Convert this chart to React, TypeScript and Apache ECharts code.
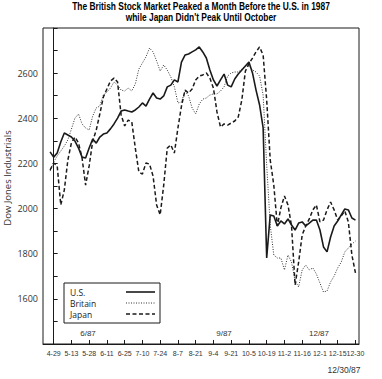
import React, { useEffect, useRef } from "react";
import * as echarts from "echarts";

// Trading-day index: 0 = 4-29-1987, 10 trading days between axis labels
const tradingDays = [
  -2, 0, 2, 4, 6, 8, 10, 12, 14, 16,
  18, 20, 22, 24, 26, 28, 30, 32, 34, 36,
  38, 40, 42, 44, 46, 48, 50, 52, 54, 56,
  58, 60, 62, 64, 66, 68, 70, 72, 74, 76,
  78, 80, 82, 84, 86, 88, 90, 92, 94, 96,
  98, 100, 102, 104, 106, 108, 110, 112, 114, 116,
  118, 120, 122, 124, 126, 128, 130, 132, 134, 136,
  138, 140, 142, 144, 146, 148, 150, 152, 154, 156,
  158, 160, 162, 164, 166, 168, 170,
];

const usValues = [
  2251, 2228, 2246, 2295, 2335, 2326, 2317, 2299, 2268, 2228,
  2224, 2268, 2308, 2290, 2317, 2330, 2335, 2353, 2375, 2401,
  2432, 2437, 2432, 2428, 2437, 2450, 2468, 2454, 2485, 2512,
  2490, 2485, 2499, 2539, 2547, 2570, 2561, 2649, 2680, 2685,
  2694, 2703, 2716, 2694, 2667, 2614, 2570, 2543, 2570, 2596,
  2547, 2539, 2574, 2596, 2614, 2632, 2649, 2601, 2525, 2459,
  2357, 1781, 1972, 1967, 1923, 1945, 1932, 1954, 1927, 1905,
  1936, 1941, 1923, 1936, 1949, 1949, 1905, 1830, 1808, 1874,
  1923, 1945, 1972, 1998, 1994, 1958, 1949,
];

const britainValues = [
  2166, 2206, 2233, 2255, 2277, 2304, 2352, 2401, 2419, 2375,
  2357, 2348, 2410, 2446, 2454, 2503, 2516, 2534, 2561, 2547,
  2525, 2521, 2534, 2521, 2552, 2618, 2645, 2672, 2711, 2694,
  2654, 2609, 2636, 2614, 2583, 2539, 2468, 2472, 2521, 2499,
  2446, 2419, 2463, 2485, 2490, 2503, 2508, 2508, 2521, 2539,
  2587, 2601, 2605, 2605, 2618, 2632, 2632, 2614, 2605, 2587,
  2503, 2193, 1927, 1794, 1781, 1781, 1728, 1794, 1763, 1679,
  1653, 1728, 1750, 1728, 1737, 1710, 1670, 1630, 1635, 1675,
  1701, 1737, 1763, 1808, 1825, 1843, 1856,
];

const japanValues = [
  2171, 2202, 2189, 2016, 2082, 2215, 2291, 2317, 2291, 2224,
  2104, 2189, 2299, 2348, 2419, 2494, 2530, 2565, 2578, 2561,
  2415, 2366, 2392, 2384, 2268, 2162, 2153, 2202, 2197, 2144,
  2016, 1972, 2104, 2268, 2282, 2246, 2357, 2454, 2525, 2512,
  2530, 2570, 2587, 2592, 2601, 2578, 2534, 2428, 2361, 2375,
  2370, 2379, 2388, 2406, 2481, 2609, 2641, 2667, 2694, 2716,
  2680, 2481, 2215, 2104, 1923, 2003, 2056, 2016, 1923, 1661,
  1763, 1883, 1923, 1954, 1994, 2016, 1941, 1949, 1994, 2029,
  1994, 1949, 1967, 1989, 1941, 1794, 1715,
];

const tickDays = [0, 10, 20, 30, 40, 50, 60, 70, 80, 90, 100, 110, 120, 130, 140, 150, 160, 170];
const tickLabels = [
  "4-29", "5-13", "5-28", "6-11", "6-25", "7-10", "7-24", "8-7", "8-21",
  "9-4", "9-21", "10-5", "10-19", "11-2", "11-16", "12-1", "12-15", "12-30",
];
const yLabelValues = [1600, 1800, 2000, 2200, 2400, 2600];
const seriesNames = ["U.S.", "Britain", "Japan"];
const monthLabels = ["6/87", "9/87", "12/87"];
const titleLines = [
  "The British Stock Market Peaked a Month Before the U.S. in 1987",
  "while Japan Didn't Peak Until October",
];

const SANS = "'Liberation Sans', Arial, sans-serif";
const BODY = "'Open Sans', 'Noto Sans', sans-serif";

export default function App() {
  const ref = useRef<HTMLDivElement>(null);

  useEffect(() => {
    if (!ref.current) return;
    const chart = echarts.init(ref.current, null, { renderer: "svg" });
    const pairs = (vals: number[]) => tradingDays.map((d, i) => [d, vals[i]]);
    const ink = "#1a1a1a";
    const legendText = (label: string, y: number) => ({
      type: "text",
      z: 11,
      x: 70,
      y,
      style: { text: label, fontSize: 8.5, lineHeight: 9, fontFamily: BODY, fill: "#222", verticalAlign: "middle" },
    });

    chart.setOption({
      animation: false,
      backgroundColor: "#ffffff",
      grid: {
        left: 43,
        right: 23,
        top: 28,
        bottom: 35,
        show: true,
        borderColor: ink,
        borderWidth: 1,
        containLabel: false,
        outerBoundsMode: "none",
      },
      xAxis: {
        type: "value",
        min: -6,
        max: 172,
        axisLine: { show: true, lineStyle: { color: ink, width: 1 } },
        axisTick: { show: true, inside: true, length: 4, customValues: tickDays, lineStyle: { color: ink } },
        axisLabel: {
          customValues: tickDays,
          showMinLabel: true,
          showMaxLabel: true,
          hideOverlap: false,
          formatter: (v: number) => {
            const i = tickDays.indexOf(Math.round(v));
            return i >= 0 ? tickLabels[i] : "";
          },
          fontSize: 7,
          color: "#333",
          margin: 6,
          fontFamily: SANS,
        },
        splitLine: { show: false },
      },
      yAxis: {
        type: "value",
        min: 1400,
        max: 2800,
        interval: 100,
        name: "Dow Jones Industrials",
        nameLocation: "middle",
        nameRotate: 90,
        nameGap: 31,
        nameMoveOverlap: false,
        nameTextStyle: { fontSize: 9.5, color: "#333", fontFamily: BODY, padding: [0, 0, 0, 16] },
        axisLine: { show: true, lineStyle: { color: ink, width: 1 } },
        axisTick: { show: true, inside: true, length: 4, lineStyle: { color: ink } },
        axisLabel: {
          formatter: (v: number) => (yLabelValues.indexOf(v) >= 0 ? String(v) : ""),
          fontSize: 9,
          color: "#333",
          margin: 5,
          fontFamily: BODY,
        },
        splitLine: { show: false },
      },
      series: [
        {
          name: seriesNames[0],
          type: "line",
          data: pairs(usValues),
          showSymbol: false,
          lineStyle: { color: ink, width: 1.6, type: "solid" },
          z: 4,
        },
        {
          name: seriesNames[1],
          type: "line",
          data: pairs(britainValues),
          showSymbol: false,
          lineStyle: { color: "#333", width: 1, type: [1, 1.5] },
          z: 3,
        },
        {
          name: seriesNames[2],
          type: "line",
          data: pairs(japanValues),
          showSymbol: false,
          lineStyle: { color: ink, width: 1.5, type: [4, 2.5] },
          z: 3,
        },
      ],
      graphic: [
        {
          type: "text",
          x: 201,
          y: 1,
          scaleX: 0.84,
          style: {
            text: titleLines.join("\n"),
            fontSize: 10,
            fontWeight: "bold",
            lineHeight: 11,
            fontFamily: SANS,
            fill: "#000",
            align: "center",
          },
        },
        {
          type: "rect",
          z: 10,
          shape: { x: 64, y: 283, width: 96, height: 40 },
          style: { fill: "#fff", stroke: ink, lineWidth: 1 },
        },
        legendText(seriesNames[0], 292),
        legendText(seriesNames[1], 303),
        legendText(seriesNames[2], 314),
        { type: "line", z: 11, shape: { x1: 126, y1: 292, x2: 155, y2: 292 }, style: { stroke: ink, lineWidth: 1.6 } },
        { type: "line", z: 11, shape: { x1: 126, y1: 303, x2: 155, y2: 303 }, style: { stroke: "#333", lineWidth: 1, lineDash: [1, 1.5] } },
        { type: "line", z: 11, shape: { x1: 126, y1: 314, x2: 155, y2: 314 }, style: { stroke: ink, lineWidth: 1.5, lineDash: [4, 2.5] } },
        { type: "text", x: 88, y: 333, style: { text: monthLabels[0], fontSize: 8, fontFamily: SANS, fill: "#333", align: "center", verticalAlign: "middle" } },
        { type: "text", x: 224, y: 333, style: { text: monthLabels[1], fontSize: 8, fontFamily: SANS, fill: "#333", align: "center", verticalAlign: "middle" } },
        { type: "text", x: 319, y: 333, style: { text: monthLabels[2], fontSize: 8, fontFamily: SANS, fill: "#333", align: "center", verticalAlign: "middle" } },
        { type: "text", x: 344, y: 370, style: { text: "12/30/87", fontSize: 8.5, fontFamily: SANS, fill: "#333", align: "center", verticalAlign: "middle" } },
      ],
    });

    return () => chart.dispose();
  }, []);

  return (
    <div
      ref={ref}
      style={{ position: "fixed", left: 0, top: 0, width: 382, height: 379, background: "#fff" }}
    />
  );
}
